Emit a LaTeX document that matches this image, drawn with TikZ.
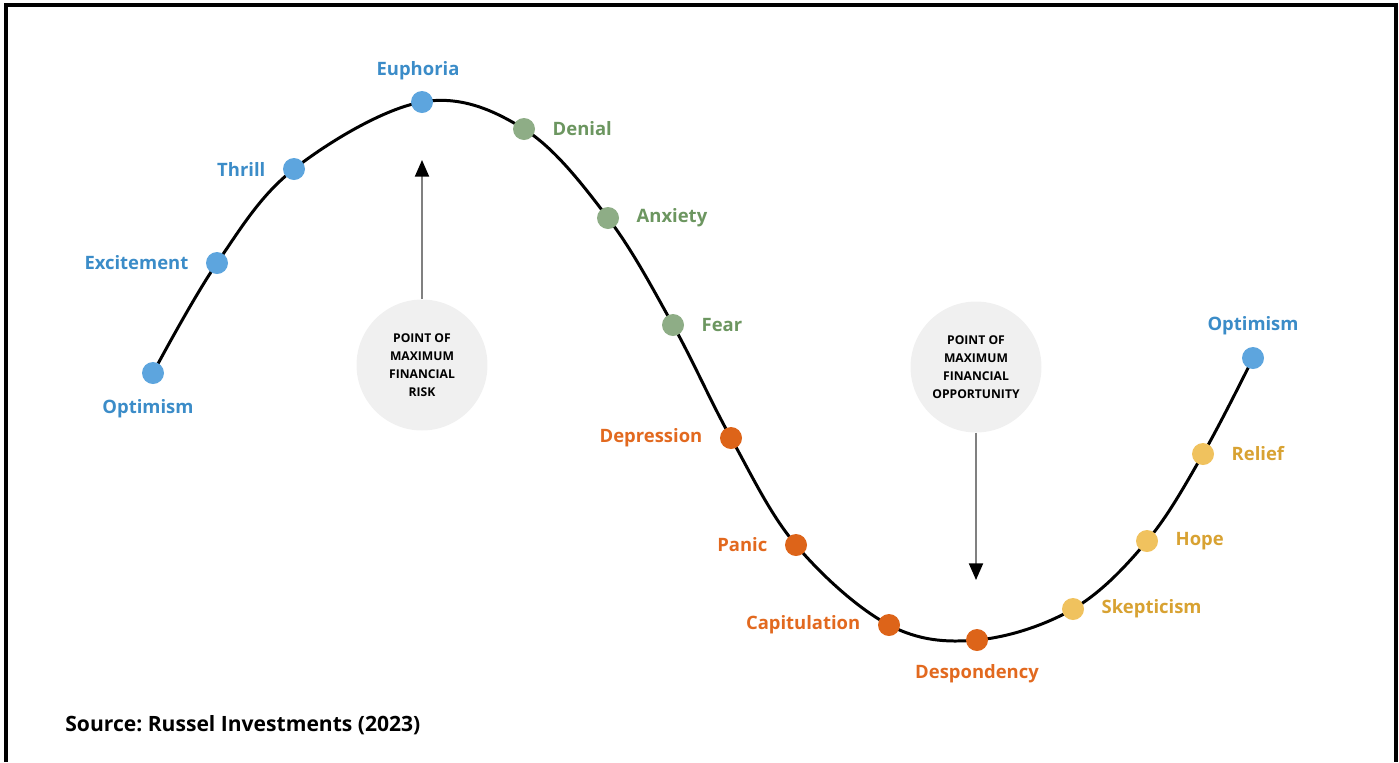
\documentclass[tikz,border=0pt]{standalone}
\usepackage{fontspec}
\setmainfont{Open Sans}
\usepackage{xcolor}
\usetikzlibrary{arrows.meta,positioning,backgrounds}
\frenchspacing

\definecolor{dotblue}{HTML}{5DA5DE}
\definecolor{txtblue}{HTML}{3B8CC8}
\definecolor{dotgreen}{HTML}{8EAD86}
\definecolor{txtgreen}{HTML}{6C9660}
\definecolor{dotorange}{HTML}{DD6419}
\definecolor{txtorange}{HTML}{E2691F}
\definecolor{dotyellow}{HTML}{F0C25E}
\definecolor{txtyellow}{HTML}{D8A232}

\begin{document}
\begin{tikzpicture}[x=0.02cm,y=-0.02cm,
   every node/.style={font=\fontsize{10.5}{12}\selectfont\bfseries},
   dot/.style={circle,minimum size=0.44cm,inner sep=0pt},
   lbl/.style={inner sep=0pt},
   pnt/.style={circle,fill=black!6,minimum size=2.62cm,inner sep=0pt,align=center,
               font=\fontsize{6.9}{10.2}\selectfont\bfseries},
   curve/.style={line width=1.7pt},
   ptr/.style={draw=black!50,line width=1.1pt,
               -{Triangle[length=9.5pt,width=8pt,color=black]}},
   node distance=0.34cm
]
\useasboundingbox (0,0) rectangle (1399,762);

% Frame
\draw[line width=2pt] (6,762) |- (1396,5) -- (1396,762);

% Dots along the cycle
\node[dot,fill=dotblue]   (opt1) at (153,373) {};
\node[dot,fill=dotblue]   (exc)  at (217,263) {};
\node[dot,fill=dotblue]   (thr)  at (294,169) {};
\node[dot,fill=dotblue]   (eup)  at (422,102) {};
\node[dot,fill=dotgreen]  (den)  at (524,129) {};
\node[dot,fill=dotgreen]  (anx)  at (608,218) {};
\node[dot,fill=dotgreen]  (fea)  at (673,325) {};
\node[dot,fill=dotorange] (dep)  at (731,438) {};
\node[dot,fill=dotorange] (pan)  at (796,545) {};
\node[dot,fill=dotorange] (cap)  at (889,625) {};
\node[dot,fill=dotorange] (des)  at (977,640) {};
\node[dot,fill=dotyellow] (ske)  at (1073,609) {};
\node[dot,fill=dotyellow] (hop)  at (1147,541) {};
\node[dot,fill=dotyellow] (rel)  at (1203,454) {};
\node[dot,fill=dotblue]   (opt2) at (1253,358) {};

% Curve behind the dots
\begin{scope}[on background layer]
\draw[curve] plot[smooth,tension=0.6] coordinates {(opt1) (exc) (thr) (eup) (den) (anx)
   (fea) (dep) (pan) (cap) (des) (ske) (hop) (rel) (opt2)};
\end{scope}

% Labels
\node[lbl,txtblue,below=0.3cm of opt1,xshift=-0.1cm] (optlbl1) {Optimism};
\node[lbl,txtblue,left=of exc] (exclbl) {Excitement};
\node[lbl,txtblue,left=of thr] (thrlbl) {Thrill};
\node[lbl,txtblue,above=0.2cm of eup,xshift=-0.08cm] (euplbl) {Euphoria};
\node[lbl,txtgreen,right=of den] (denlbl) {Denial};
\node[lbl,txtgreen,right=of anx] (anxlbl) {Anxiety};
\node[lbl,txtgreen,right=of fea] (fealbl) {Fear};
\node[lbl,txtorange,left=of dep] (deplbl) {Depression};
\node[lbl,txtorange,left=of pan] (panlbl) {Panic};
\node[lbl,txtorange,left=of cap] (caplbl) {Capitulation};
\node[lbl,txtorange,below=0.26cm of des] (deslbl) {Despondency};
\node[lbl,txtyellow,right=of ske] (skelbl) {Skepticism};
\node[lbl,txtyellow,right=of hop] (hoplbl) {Hope};
\node[lbl,txtyellow,right=of rel] (rellbl) {Relief};
\node[lbl,txtblue,above=0.22cm of opt2] (optlbl2) {Optimism};

% Points of maximum risk / opportunity
\node[pnt] (risk) at (422,365) {POINT OF\\MAXIMUM\\FINANCIAL\\RISK};
\coordinate (riskTip) at (422,160);
\draw[ptr] (risk) -- (riskTip);

\node[pnt] (opp) at (976,367) {POINT OF\\MAXIMUM\\FINANCIAL\\OPPORTUNITY};
\coordinate (oppTip) at (976,580);
\draw[ptr] (opp) -- (oppTip);

% Source
\node[lbl,anchor=west,font=\fontsize{12}{14}\selectfont\bfseries] (src) at (65,725)
   {Source: Russel Investments (2023)};

\end{tikzpicture}
\end{document}
